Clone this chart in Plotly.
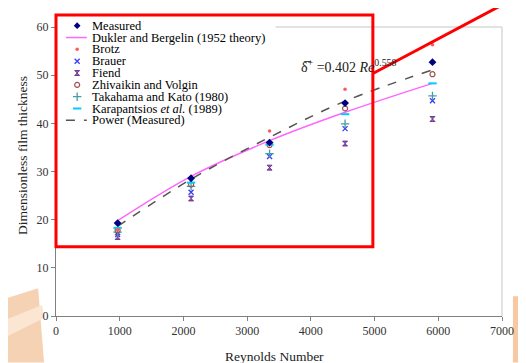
import plotly.graph_objects as go

# ---------------- data ----------------
reynolds = [967, 2120, 3352, 4537, 5909]
measured = [19.3, 28.6, 36.0, 44.2, 52.7]
dukler = [19.8, 29.0, 36.4, 42.3, 48.3]
brotz = [17.9, 28.8, 38.4, 47.1, 56.3]
brauer = [16.9, 25.7, 33.1, 38.9, 44.7]
fiend = [16.4, 24.4, 30.8, 35.8, 40.9]
zhivaikin = [17.8, 27.3, 35.5, 43.1, 50.2]
takahama = [17.4, 26.9, 33.7, 39.9, 45.7]
karapantsios = [18.3, 27.7, 35.6, 41.9, 48.3]
power_fit = [18.6, 28.4, 37.1, 44.6, 51.1]

x_ticks = [0, 1000, 2000, 3000, 4000, 5000, 6000, 7000]
y_ticks = [0, 10, 20, 30, 40, 50, 60]

legend_labels = [
    "Measured",
    "Dukler and Bergelin (1952 theory)",
    "Brotz",
    "Brauer",
    "Fiend",
    "Zhivaikin and Volgin",
    "Takahama and Kato (1980)",
    "Karapantsios <i>et al.</i> (1989)",
    "Power (Measured)",
]

# ---------------- layout geometry ----------------
OFF = 8  # page body margin
W, H = 526 - OFF, 363 - OFF
# plot area in reference-window pixels
RX0, RX1, RY0, RY1 = 56, 505, 24, 316
L, T = RX0 - OFF, RY0 - OFF
R, B = W - (RX1 - OFF), H - (RY1 - OFF)

def px(xp):
    return (xp - RX0) / (RX1 - RX0)

def py(yp):
    return (RY1 - yp) / (RY1 - RY0)

SERIF = "Liberation Serif"

styles = {
    "Measured": dict(mode="markers", marker=dict(symbol="diamond", size=6, color="#000080")),
    "Brotz": dict(mode="markers", marker=dict(symbol="circle", size=3.5, color="#ff5a5a")),
    "Brauer": dict(mode="markers", marker=dict(symbol="x-thin", size=5, color="#3a3aff",
                                               line=dict(width=1.3, color="#3a3aff"))),
    "Fiend": dict(mode="markers", marker=dict(symbol="hourglass", size=5, color="#9060b0",
                                              line=dict(width=0.8, color="#602080"))),
    "Zhivaikin": dict(mode="markers", marker=dict(symbol="circle-open", size=5, color="#a05050",
                                                  line=dict(width=1.2, color="#a05050"))),
    "Takahama": dict(mode="markers", marker=dict(symbol="cross-thin", size=6, color="#40a0a0",
                                                 line=dict(width=1.3, color="#40a0a0"))),
    "Karapantsios": dict(mode="markers", marker=dict(symbol="line-ew", size=6, color="#00ccff",
                                                     line=dict(width=2, color="#00ccff"))),
    "Dukler": dict(mode="lines", line=dict(color="#ff66ff", width=1.5, shape="spline")),
    "Power": dict(mode="lines", line=dict(color="#555555", width=1.5, dash="dash", shape="spline")),
}

fig = go.Figure()

series = [
    ("Dukler", dukler),
    ("Power", power_fit),
    ("Fiend", fiend),
    ("Brauer", brauer),
    ("Takahama", takahama),
    ("Zhivaikin", zhivaikin),
    ("Karapantsios", karapantsios),
    ("Brotz", brotz),
    ("Measured", measured),
]
for name, vals in series:
    fig.add_trace(go.Scatter(x=reynolds, y=vals, name=name, showlegend=False,
                             cliponaxis=False, **styles[name]))

shapes = [
    # slide decorations (orange) at the bottom corners
    dict(type="path", xref="paper", yref="paper", layer="below",
         path=f"M {px(0)} {py(300)} L {px(38)} {py(288)} L {px(44)} {py(363)} L {px(0)} {py(363)} Z",
         fillcolor="#f6d2b4", line=dict(width=0)),
    dict(type="path", xref="paper", yref="paper", layer="below",
         path=f"M {px(0)} {py(322)} L {px(42)} {py(305)} L {px(44)} {py(318)} L {px(0)} {py(340)} Z",
         fillcolor="#fbe6d4", line=dict(width=0)),
    dict(type="rect", xref="paper", yref="paper", layer="below",
         x0=px(516), x1=px(526), y0=py(296), y1=py(363),
         fillcolor="#f6c9a4", line=dict(width=0)),
    # light plot-area border (top & right); the legend box hides its left part
    dict(type="line", xref="paper", yref="paper", x0=px(277), x1=1, y0=1, y1=1,
         line=dict(color="#d9d9d9", width=1.5)),
    dict(type="line", xref="paper", yref="paper", x0=1, x1=1, y0=0, y1=1,
         line=dict(color="#d9d9d9", width=1.5)),
]

# ---------------- custom legend (compact, as in the original) ----------------
legend_keys = ["Measured", "Dukler", "Brotz", "Brauer", "Fiend", "Zhivaikin",
               "Takahama", "Karapantsios", "Power"]
row0, row_step = 22.7, 11.95
key_x, text_x = 77.3, 90
annotations = []
for i, (key, label) in enumerate(zip(legend_keys, legend_labels)):
    yc = row0 + i * row_step
    st = styles[key]
    if st["mode"] == "lines":
        ln = dict(st["line"])
        ln.pop("shape", None)
        fig.add_trace(go.Scatter(x=[66, 87], y=[yc, yc], mode="lines", line=ln,
                                 xaxis="x2", yaxis="y2", showlegend=False, hoverinfo="skip"))
    elif yc < RY0 + 3:
        # key above the plot area: draw it as a diamond path
        d = 3.4
        shapes.append(dict(type="path", xref="paper", yref="paper",
                           path=(f"M {px(key_x)} {py(yc - d)} L {px(key_x + d)} {py(yc)} "
                                 f"L {px(key_x)} {py(yc + d)} L {px(key_x - d)} {py(yc)} Z"),
                           fillcolor=st["marker"]["color"], line=dict(width=0)))
    else:
        fig.add_trace(go.Scatter(x=[key_x], y=[yc], mode="markers", marker=st["marker"],
                                 xaxis="x2", yaxis="y2", showlegend=False, hoverinfo="skip"))
    annotations.append(dict(x=px(text_x), y=py(yc), xref="paper", yref="paper",
                            text=label, showarrow=False, xanchor="left", yanchor="middle",
                            font=dict(family=SERIF, size=12.5, color="#000000")))

# equation
annotations.append(dict(x=px(301), y=py(63), xref="paper", yref="paper",
                        text="δ\u0305<sup>+</sup> =0.402 <i>Re</i><sup>0.558</sup>",
                        showarrow=False, xanchor="left", yanchor="middle",
                        font=dict(family=SERIF, size=14, color="#222222")))
# axis titles
annotations.append(dict(x=px(22), y=py(154), xref="paper", yref="paper",
                        text="Dimensionless film thickness", textangle=-90, showarrow=False,
                        xanchor="center", yanchor="middle",
                        font=dict(family=SERIF, size=13.5, color="#222222")))
annotations.append(dict(x=px(276), y=py(357), xref="paper", yref="paper",
                        text="Reynolds Number", showarrow=False,
                        xanchor="center", yanchor="middle",
                        font=dict(family=SERIF, size=13.5, color="#222222")))

# red highlight rectangle and pointer line drawn over the slide
shapes += [
    dict(type="rect", xref="paper", yref="paper", x0=px(56), x1=px(375), y0=py(12), y1=py(246),
         line=dict(color="#ff0000", width=3), fillcolor="rgba(0,0,0,0)", layer="above"),
    dict(type="line", xref="paper", yref="paper", x0=px(375), x1=px(512), y0=py(71), y1=py(-2),
         line=dict(color="#ff0000", width=3), layer="above"),
]

fig.update_layout(
    width=W, height=H,
    margin=dict(l=L, r=R, t=T, b=B, pad=0),
    paper_bgcolor="white", plot_bgcolor="rgba(0,0,0,0)",
    showlegend=False,
    xaxis=dict(range=[0, 7000], tickvals=x_ticks, ticks="outside", ticklen=4,
               tickcolor="#808080", showline=True, linecolor="#808080", linewidth=1,
               showgrid=False, zeroline=False,
               tickfont=dict(family=SERIF, size=12, color="#333333")),
    yaxis=dict(range=[0, 60], tickvals=y_ticks, ticks="outside", ticklen=4,
               tickcolor="#808080", showline=True, linecolor="#808080", linewidth=1,
               showgrid=False, zeroline=False,
               tickfont=dict(family=SERIF, size=12, color="#333333")),
    xaxis2=dict(range=[RX0, RX1], overlaying="x", anchor="y2", visible=False, fixedrange=True),
    yaxis2=dict(range=[RY1, RY0], overlaying="y", anchor="x2", visible=False, fixedrange=True),
    annotations=annotations,
    shapes=shapes,
)

fig.write_html("out.html")
